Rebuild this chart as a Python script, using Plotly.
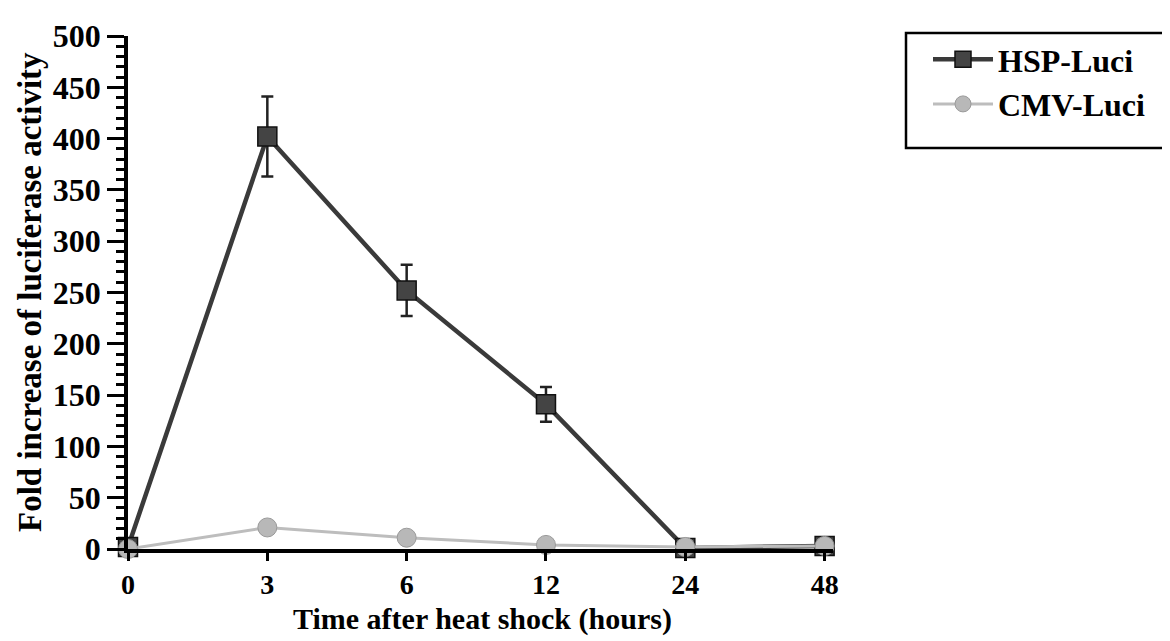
import plotly.graph_objects as go

hours = ["0", "3", "6", "12", "24", "48"]
hsp_values = [2, 402, 252, 141, 1, 3]
hsp_errors = [0, 39, 25, 17, 2, 2]
cmv_values = [0, 21, 11, 4, 2, 3]
series_names = ["HSP-Luci", "CMV-Luci"]
y_ticks = list(range(0, 501, 50))
x_title = "Time after heat shock (hours)"
y_title = "Fold increase of luciferase activity"

FONT = "Liberation Serif, Times New Roman, serif"
W, H = 1170, 641
ML, MR, MT, MB = 120, 345, 28, 100
PW = W - ML - MR
PH = H - MT - MB

fig = go.Figure()
fig.add_trace(go.Scatter(
    x=hours, y=hsp_values, name=series_names[0], mode="lines+markers",
    line=dict(color="#3a3a3a", width=4.5),
    marker=dict(symbol="square", size=19, color="#444444",
                line=dict(color="#111111", width=1.5)),
    error_y=dict(type="data", array=hsp_errors, visible=True,
                 color="#222222", thickness=2.5, width=6),
    cliponaxis=False,
))
fig.add_trace(go.Scatter(
    x=hours, y=cmv_values, name=series_names[1], mode="lines+markers",
    line=dict(color="#bdbdbd", width=3),
    marker=dict(symbol="circle", size=19, color="#b8b8b8",
                line=dict(color="#9a9a9a", width=1)),
    cliponaxis=False,
))

def px_x(p):
    return (p - ML) / PW

def px_y(p):
    return (H - MB - p) / PH

# legend frame
fig.add_shape(type="rect", xref="paper", yref="paper",
              x0=px_x(898), x1=px_x(1167), y0=px_y(140), y1=px_y(25),
              line=dict(color="black", width=2.5), fillcolor="rgba(0,0,0,0)")

# axis titles
fig.add_annotation(text=x_title, xref="paper", yref="paper",
                   x=px_x(475), y=px_y(611), xanchor="center", yanchor="middle",
                   showarrow=False, borderpad=0,
                   font=dict(family=FONT, size=30, color="black", weight="bold"))
fig.add_annotation(text=y_title, xref="paper", yref="paper",
                   x=px_x(22), y=px_y(284), xanchor="center", yanchor="middle",
                   textangle=-90, showarrow=False, borderpad=0,
                   font=dict(family=FONT, size=33, color="black", weight="bold"))

fig.update_layout(
    width=W, height=H,
    margin=dict(l=ML, r=MR, t=MT, b=MB, autoexpand=False),
    paper_bgcolor="white", plot_bgcolor="white",
    font=dict(family=FONT, size=32, color="black", weight="bold"),
    showlegend=True,
    legend=dict(x=px_x(920), y=px_y(24), xanchor="left", yanchor="top",
                bgcolor="rgba(0,0,0,0)", borderwidth=0, itemwidth=60,
                font=dict(family=FONT, size=32, color="black", weight="bold")),
    xaxis=dict(
        type="category", categoryorder="array", categoryarray=hours,
        range=[0, 5.06], showgrid=False, zeroline=False,
        showline=True, linecolor="black", linewidth=3.5,
        ticks="outside", ticklen=8, tickwidth=3, tickcolor="black",
        tickfont=dict(family=FONT, size=28, color="black", weight="bold"),
        fixedrange=True,
    ),
    yaxis=dict(
        range=[0, 500], tickvals=y_ticks, showgrid=False, zeroline=False,
        showline=True, linecolor="black", linewidth=3.5,
        ticks="outside", ticklen=17, tickwidth=3, tickcolor="black",
        minor=dict(dtick=10, ticks="outside", ticklen=8, tickwidth=2.5,
                   tickcolor="black", showgrid=False),
        tickfont=dict(family=FONT, size=32, color="black", weight="bold"),
        fixedrange=True,
    ),
)

fig.write_html("out.html")
